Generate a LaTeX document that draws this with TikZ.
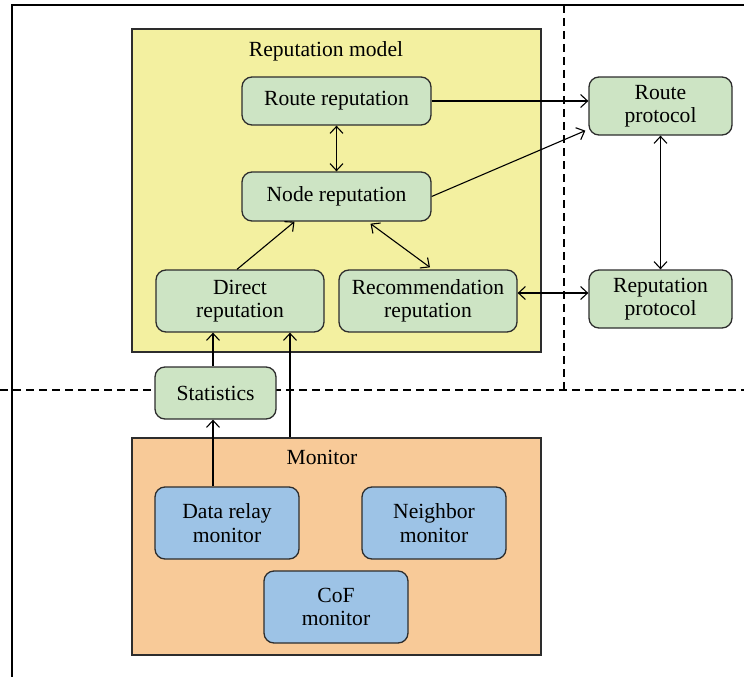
\documentclass[tikz,border=0pt]{standalone}
\usepackage{fontspec}
\setmainfont{Liberation Serif}
\usetikzlibrary{arrows.meta,positioning,calc}
\definecolor{yel}{RGB}{243,240,160}
\definecolor{grn}{RGB}{205,228,196}
\definecolor{org}{RGB}{248,202,152}
\definecolor{blu}{RGB}{157,195,230}
\definecolor{edge}{RGB}{45,45,45}
\tikzset{
  area/.style={draw=edge,line width=1.3pt,inner sep=0pt},
  gbox/.style={draw=edge,fill=grn,line width=1.3pt,rounded corners=10pt,inner sep=0pt,align=center,font=\fontsize{21.6}{23.5}\selectfont},
  bbox/.style={gbox,fill=blu},
  lbl/.style={font=\fontsize{21.6}{23.5}\selectfont,inner sep=0pt},
  arr/.style={line width=1.1pt,-{Straight Barb[length=7pt,width=13pt,line width=1.1pt]}},
  darr/.style={line width=1.1pt,{Straight Barb[length=7pt,width=13pt,line width=1.1pt]}-{Straight Barb[length=7pt,width=13pt,line width=1.1pt]}},
  dsh/.style={line width=1.1pt,dash pattern=on 8pt off 5pt},
  frame/.style={line width=1.5pt,draw=black}
}
\begin{document}
\begin{tikzpicture}[x=1pt,y=-1pt]
\useasboundingbox (0,0) rectangle (744,677);
% frame and dashed separators
\draw[frame] (12,677) -- (12,5) -- (744,5);
\draw[dsh] (564,5) -- (564,390);
\draw[dsh] (0,390) -- (744,390);
% areas
\node[area,fill=yel,minimum width=409pt,minimum height=323pt] (repm) at (336.5,190.5) {};
\node[lbl] (repmt) at (326,51) {Reputation model};
\node[area,fill=org,minimum width=409pt,minimum height=217pt] (mon) at (336.5,546.5) {};
\node[lbl] (mont) at (322,457) {Monitor};
% green boxes
\node[gbox,minimum width=189pt,minimum height=48pt] (rr) at (336.5,101) {Route reputation};
\node[gbox,minimum width=189pt,minimum height=49pt] (nr) at (336.5,196.5) {Node reputation};
\node[gbox,minimum width=168pt,minimum height=62pt] (dr) at (240,301) {Direct\\reputation};
\node[gbox,minimum width=178pt,minimum height=62pt] (rc) at (428,301) {Recommendation\\reputation};
\node[gbox,minimum width=143pt,minimum height=58pt] (rp) at (660.5,106) {Route\\protocol};
\node[gbox,minimum width=143pt,minimum height=58pt] (pp) at (660.5,299) {Reputation\\protocol};
\node[gbox,minimum width=121pt,minimum height=52pt] (st) at (215.5,393) {Statistics};
% blue boxes
\node[bbox,minimum width=144pt,minimum height=72pt] (dm) at (227,523) {Data relay\\monitor};
\node[bbox,minimum width=144pt,minimum height=72pt] (nm) at (434,523) {Neighbor\\monitor};
\node[bbox,minimum width=144pt,minimum height=72pt] (cm) at (336,607) {CoF\\monitor};
% connectors
\draw[arr] (rr.east) -- (rr.east -| rp.west);
\draw[arr] (nr.east) -- ([xshift=-3pt,yshift=5pt]rp.south west);
\draw[darr] (rr.south) -- (nr.north);
\draw[arr] ([xshift=-3pt]dr.north) -- ([xshift=-42pt]nr.south);
\draw[darr] ([xshift=34pt,yshift=-2pt]nr.south) -- ([xshift=2pt,yshift=2pt]rc.north);
\coordinate (rce) at ([yshift=8pt]rc.east);
\draw[darr] (rce) -- (rce -| pp.west);
\draw[darr] (rp.south) -- (pp.north);
\coordinate (s1) at ([xshift=-2.5pt]st.north);
\draw[arr] (s1) -- (s1 |- dr.south);
\coordinate (s2) at ([xshift=-2.5pt]st.south);
\draw[arr] (s2 |- dm.north) -- (s2);
\coordinate (m1) at ([xshift=50pt]dr.south);
\draw[arr] (m1 |- mon.north) -- (m1);
\end{tikzpicture}
\end{document}
